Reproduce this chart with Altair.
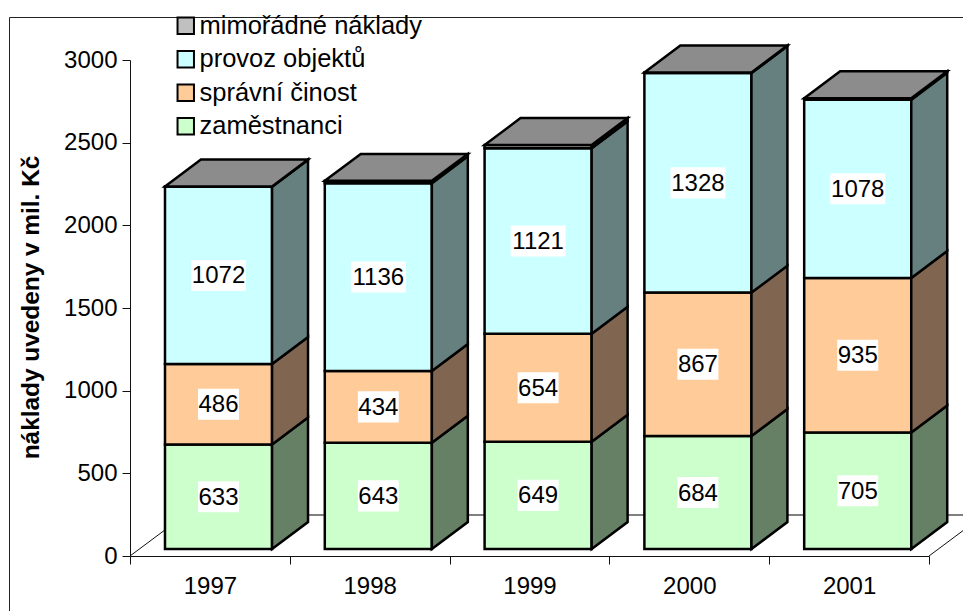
import altair as alt
import pandas as pd

years = ["1997", "1998", "1999", "2000", "2001"]
series = ["zaměstnanci", "správní činost", "provoz objektů", "mimořádné náklady"]
zamestnanci = [633, 643, 649, 684, 705]
spravni = [486, 434, 654, 867, 935]
provoz = [1072, 1136, 1121, 1328, 1078]
mimoradne = [2, 14, 20, 3, 9]
front_colors = ["#CCFFCC", "#FFCC99", "#CCFFFF", "#C0C0C0"]
side_colors = ["#668066", "#806650", "#668080", "#606060"]
top_color = "#8C8C8C"

FONT = "Liberation Sans"
BAR_LEFT, BAR_W = 0.219, 0.67
DEPTH_X, DEPTH_Y, LIFT = 0.225, 163, 42
FLOOR_X, FLOOR_Y = 0.344, 248

columns = [zamestnanci, spravni, provoz, mimoradne]
front, side, tops, labels = [], [], [], []
for i, year in enumerate(years):
    base = LIFT
    left = i + BAR_LEFT
    right = left + BAR_W
    for s, name in enumerate(series):
        v = columns[s][i]
        low, high = base, base + v
        front.append(dict(series=name, x=left, x2=right, y=low, y2=high))
        key = f"{year}-{s}"
        side.append(dict(key=key, fill=side_colors[s], x=right, y=low, y2=high))
        side.append(dict(key=key, fill=side_colors[s], x=right + DEPTH_X,
                         y=low + DEPTH_Y, y2=high + DEPTH_Y))
        if s < 3:
            half = (0.128 if v < 1000 else 0.172)
            labels.append(dict(text=str(v), xc=(left + right) / 2, yc=(low + high) / 2,
                               x=(left + right) / 2 - half, x2=(left + right) / 2 + half,
                               y=(low + high) / 2 - 94, y2=(low + high) / 2 + 94))
        base = high
    tops.append(dict(key=year, x=left, x2=right, y=base))
    tops.append(dict(key=year, x=left + DEPTH_X, x2=right + DEPTH_X, y=base + DEPTH_Y))

df_front, df_side = pd.DataFrame(front), pd.DataFrame(side)
df_top, df_labels = pd.DataFrame(tops), pd.DataFrame(labels)
df_years = pd.DataFrame({"year": years})
df_floor = pd.DataFrame([
    dict(key="l", x=0, y=0), dict(key="l", x=FLOOR_X, y=FLOOR_Y),
    dict(key="r", x=5, y=0), dict(key="r", x=5 + FLOOR_X, y=FLOOR_Y),
])
df_wall = pd.DataFrame([dict(x=FLOOR_X, y=FLOOR_Y), dict(x=5 + FLOOR_X, y=FLOOR_Y)])

xs = alt.Scale(domain=[0, 5], nice=False, zero=False)
ys = alt.Scale(domain=[0, 3000], nice=False, zero=False)
X = lambda f: alt.X(f, type="quantitative", scale=xs, axis=None, stack=None)
Y = lambda f: alt.Y(f, type="quantitative", scale=ys, stack=None,
                    axis=alt.Axis(title="náklady uvedeny v mil. Kč", values=[0, 500, 1000, 1500, 2000, 2500, 3000],
                                  format="d", grid=False, tickSize=8, tickColor="#111111", domainColor="#111111",
                                  labelFont=FONT, labelFontSize=24, labelColor="black", labelPadding=5,
                                  titleFont=FONT, titleFontSize=24.4, titleFontWeight="bold", titleColor="black",
                                  titleX=-87, titleY=247))

frame = alt.Chart(df_years.head(1)).mark_rect(fill=None, stroke="#222222", strokeWidth=1).encode(
    x=alt.value(-120.5), x2=alt.value(2000), y=alt.value(-42.5), y2=alt.value(2000))

x_axis = alt.Chart(df_years).mark_tick(opacity=0).encode(
    x=alt.X("year:N", sort=years, scale=alt.Scale(paddingInner=0, paddingOuter=0),
            axis=alt.Axis(title=None, tickBand="extent", tickSize=8, labelAngle=0, labelPadding=10,
                          tickColor="#111111", domainColor="#111111", labelFont=FONT, labelFontSize=24,
                          labelColor="black", grid=False)))

wall = alt.Chart(df_wall).mark_line(color="#808080", strokeWidth=2).encode(x=X("x"), y=Y("y"))
floor = alt.Chart(df_floor).mark_line(color="#111111", strokeWidth=1).encode(x=X("x"), y=Y("y"), detail="key:N")

front_layer = alt.Chart(df_front).mark_rect(stroke="black", strokeWidth=2.5).encode(
    x=X("x"), x2="x2", y=Y("y"), y2="y2",
    fill=alt.Fill("series:N", scale=alt.Scale(domain=series[::-1], range=front_colors[::-1]),
                  legend=alt.Legend(title=None, orient="none", legendX=43, legendY=-47, symbolType="square",
                                    symbolSize=270, symbolStrokeColor="black", symbolStrokeWidth=2,
                                    labelFont=FONT, labelFontSize=25.5, labelColor="black", rowPadding=6.5,
                                    labelOffset=1, labelLimit=400, symbolOpacity=1)))

side_layer = alt.Chart(df_side).mark_area(orient="vertical", stroke="black", strokeWidth=2.5, opacity=1).encode(
    x=X("x"), y=Y("y"), y2="y2", detail="key:N", fill=alt.Fill("fill:N", scale=None))

top_layer = alt.Chart(df_top).mark_area(orient="horizontal", stroke="black", strokeWidth=2.5,
                                        fill=top_color, opacity=1).encode(
    y=Y("y"), x=X("x"), x2="x2", detail="key:N")

boxes = alt.Chart(df_labels).mark_rect(fill="white").encode(x=X("x"), x2="x2", y=Y("y"), y2="y2")
texts = alt.Chart(df_labels).mark_text(font=FONT, fontSize=24, color="black", baseline="middle", dy=1).encode(
    x=X("xc"), y=Y("yc"), text="text:N")

chart = alt.layer(frame, x_axis, wall, floor, front_layer, side_layer, top_layer, boxes, texts).resolve_scale(
    x="independent").properties(
    width=799, height=496, autosize=alt.AutoSizeParams(type="none"),
    padding={"left": 122, "top": 52, "right": 34, "bottom": 55},
).configure_view(stroke=None)

chart.save("out.html", embed_options={"renderer": "svg", "actions": False})
